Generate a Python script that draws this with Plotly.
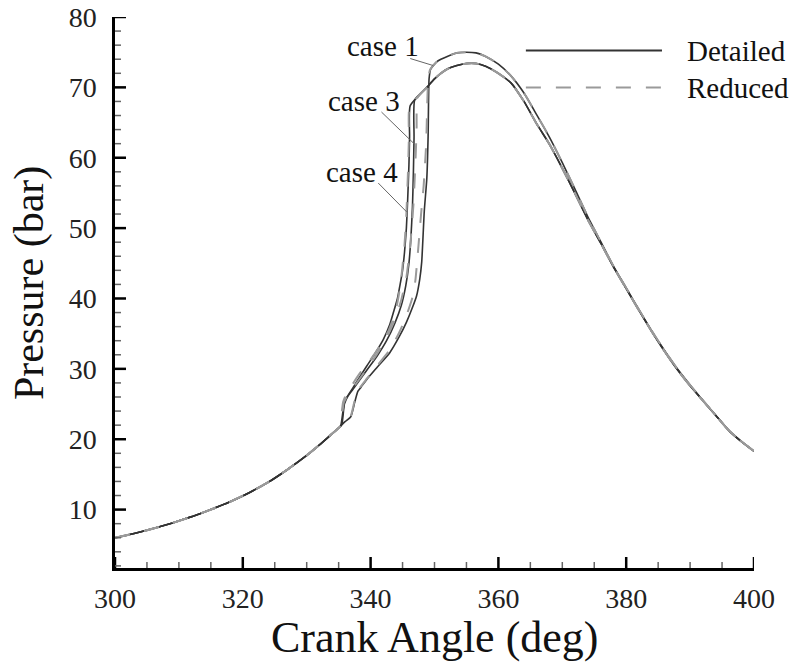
import plotly.graph_objects as go

# ---------------- data ----------------
# shared motored-compression segment (all cases)
comp_angle = [300, 303, 306, 309, 312, 315, 318, 321, 324, 327, 330, 332, 334, 335]
comp_p = [6.0, 6.6, 7.3, 8.1, 9.0, 10.0, 11.1, 12.4, 13.9, 15.7, 17.7, 19.2, 20.8, 21.6]

# expansion of cases 3 & 4 (lower peak)
exp_low_angle = [348.8, 350.0, 351.0, 352.0, 353.5, 355.0, 356.5, 358.0, 360.0, 362.0, 364.0,
                 366.0, 368.0, 370.0, 372.0, 374.0, 376.0, 378.0, 380.0, 382.0, 384.0, 386.0,
                 388.0, 390.0, 392.0, 394.0, 396.0, 398.0, 400.0]
exp_low_p = [70.0, 71.2, 72.0, 72.6, 73.1, 73.4, 73.4, 73.0, 72.0, 70.6, 68.0,
             64.8, 61.9, 58.5, 54.9, 51.2, 47.9, 44.5, 41.4, 38.3, 35.3, 32.5,
             29.9, 27.6, 25.5, 23.4, 21.3, 19.7, 18.3]

# expansion of case 1 (upper peak)
exp_up_angle = [350.3, 351.0, 352.0, 353.5, 355.0, 356.5, 358.0, 360.0, 362.0, 364.0, 366.0,
                368.0, 370.0, 372.0, 374.0, 376.0, 378.0, 380.0, 382.0, 384.0, 386.0, 388.0,
                390.0, 392.0, 394.0, 396.0, 398.0, 400.0]
exp_up_p = [73.6, 74.0, 74.4, 74.9, 75.0, 74.9, 74.4, 73.3, 71.6, 69.2, 66.1,
            62.9, 59.3, 55.5, 51.6, 48.1, 44.6, 41.5, 38.4, 35.4, 32.6, 30.0,
            27.7, 25.5, 23.4, 21.3, 19.7, 18.3]

# combustion segments, detailed mechanism
c1_det_angle = [336.0, 336.9, 337.5, 338.0, 338.5, 339.4, 341.0, 343.0, 344.5, 345.6, 346.5,
                347.2, 347.7, 348.0, 348.4, 348.8, 349.0, 349.15, 349.4]
c1_det_p = [22.5, 23.2, 25.2, 26.8, 27.4, 28.5, 30.2, 32.3, 34.6, 36.6, 38.6,
            40.4, 42.8, 45.2, 52.4, 57.1, 63.0, 71.2, 72.6]

c3_det_angle = [335.5, 335.9, 336.5, 337.5, 339.4, 341.0, 342.5, 343.8, 344.8, 345.5, 346.0,
                346.3, 346.55, 346.7, 346.8, 346.9]
c3_det_p = [22.1, 25.0, 26.2, 27.4, 29.8, 31.8, 34.0, 36.5, 39.0, 41.8, 45.0,
            48.5, 53.0, 58.0, 63.0, 68.2]

c4_det_angle = [335.3, 335.9, 336.3, 337.3, 338.4, 339.4, 340.7, 342.0, 343.0, 343.6, 344.2,
                344.6, 345.0, 345.3, 345.6, 345.8, 346.0, 346.1, 346.2]
c4_det_p = [21.8, 25.3, 26.0, 27.4, 29.0, 30.4, 32.2, 34.2, 36.3, 38.1, 40.0,
            41.9, 44.0, 46.5, 50.0, 54.0, 59.0, 63.0, 67.4]

# combustion segments, reduced mechanism
c1_red_angle = [336.0, 336.9, 337.5, 338.0, 339.4, 341.0, 343.0, 344.5, 345.5, 346.5, 347.0,
                347.5, 347.9, 348.3, 348.7, 349.0, 349.3]
c1_red_p = [22.5, 23.3, 25.5, 26.9, 28.6, 30.4, 32.7, 35.2, 37.3, 40.0, 42.5,
            47.6, 52.0, 56.0, 62.0, 71.0, 72.5]

c3_red_angle = [335.3, 335.8, 336.4, 337.5, 339.4, 341.0, 342.5, 343.8, 344.8, 345.6, 346.2,
                346.7, 347.0, 347.2, 347.35]
c3_red_p = [21.9, 25.2, 26.2, 27.6, 30.0, 32.1, 34.4, 37.0, 39.8, 43.0, 47.5,
            53.3, 59.0, 64.0, 68.6]

c4_red_angle = [335.2, 335.7, 336.2, 337.3, 338.5, 339.9, 341.5, 342.8, 343.6, 344.1, 344.6,
                344.9, 345.3, 345.6, 345.85, 346.0, 346.1]
c4_red_p = [21.8, 25.3, 26.4, 28.0, 29.6, 31.2, 33.3, 35.4, 37.3, 39.0, 41.5,
            43.8, 47.5, 52.0, 58.0, 63.0, 67.2]

x_range = [300, 400]
y_range = [1.7, 80]
x_major = [300, 320, 340, 360, 380, 400]
y_major = [10, 20, 30, 40, 50, 60, 70, 80]
x_minor = [v for v in range(305, 400, 5) if v not in x_major]
y_minor = [v for v in range(2, 80, 2) if v not in y_major]
case_labels = ["case 1", "case 3", "case 4"]
legend_labels = ["Detailed", "Reduced"]

FONT = "Liberation Serif"
DET_COLOR = "#333333"
RED_COLOR = "#9a9a9a"

fig = go.Figure()


def add_curve(angle, p, upper, detailed):
    exp_a = exp_up_angle if upper else exp_low_angle
    exp_p = exp_up_p if upper else exp_low_p
    xs = comp_angle + angle + exp_a
    ys = comp_p + p + exp_p
    if detailed:
        line = dict(color=DET_COLOR, width=1.6, shape="spline", smoothing=0.5)
    else:
        line = dict(color=RED_COLOR, width=2, dash="15px,15px", shape="spline", smoothing=0.5)
    fig.add_trace(go.Scatter(x=xs, y=ys, mode="lines", line=line,
                             showlegend=False, hoverinfo="skip"))


add_curve(c1_det_angle, c1_det_p, True, True)
add_curve(c3_det_angle, c3_det_p, False, True)
add_curve(c4_det_angle, c4_det_p, False, True)
add_curve(c1_red_angle, c1_red_p, True, False)
add_curve(c3_red_angle, c3_red_p, False, False)
add_curve(c4_red_angle, c4_red_p, False, False)

# case labels with leader lines
label_pos = [(341.9, 75.9), (338.9, 68.1), (338.7, 58.0)]
leader = [((346.2, 74.1), (349.8, 73.1)),
          ((341.7, 66.5), (346.8, 62.0)),
          ((341.2, 56.4), (345.65, 52.3))]
for txt, (lx, ly), ((x0, y0), (x1, y1)) in zip(case_labels, label_pos, leader):
    fig.add_annotation(x=lx, y=ly, text=txt, showarrow=False,
                       font=dict(family=FONT, size=29, color="#111"))
    fig.add_shape(type="line", x0=x0, y0=y0, x1=x1, y1=y1, xref="x", yref="y",
                  line=dict(color="#666", width=1))

# legend drawn manually (long line samples)
fig.add_shape(type="line", xref="paper", yref="paper", x0=0.643, x1=0.856, y0=0.939, y1=0.939,
              line=dict(color=DET_COLOR, width=2))
fig.add_shape(type="line", xref="paper", yref="paper", x0=0.643, x1=0.856, y0=0.872, y1=0.872,
              line=dict(color=RED_COLOR, width=2, dash="15px,15px"))
fig.add_annotation(xref="paper", yref="paper", x=0.892, y=0.939, xanchor="left", yanchor="middle",
                   text=legend_labels[0], showarrow=False, font=dict(family=FONT, size=29, color="#111"))
fig.add_annotation(xref="paper", yref="paper", x=0.892, y=0.872, xanchor="left", yanchor="middle",
                   text=legend_labels[1], showarrow=False, font=dict(family=FONT, size=29, color="#111"))

# tick marks pointing into the plot (pixel-sized shapes anchored to the axes)
for v in x_major:
    fig.add_shape(type="line", xref="x", x0=v, x1=v, yref="paper", ysizemode="pixel", yanchor=0,
                  y0=0, y1=11, line=dict(color="black", width=2.5))
for v in x_minor:
    fig.add_shape(type="line", xref="x", x0=v, x1=v, yref="paper", ysizemode="pixel", yanchor=0,
                  y0=0, y1=6, line=dict(color="#666", width=1.5))
for v in y_major:
    fig.add_shape(type="line", yref="y", y0=v, y1=v, xref="paper", xsizemode="pixel", xanchor=0,
                  x0=0, x1=11, line=dict(color="black", width=2.5))
for v in y_minor:
    fig.add_shape(type="line", yref="y", y0=v, y1=v, xref="paper", xsizemode="pixel", xanchor=0,
                  x0=0, x1=6, line=dict(color="#666", width=1.5))

# axis titles
fig.add_annotation(xref="paper", yref="paper", x=0.5, y=-0.126, xanchor="center", yanchor="middle",
                   text="Crank Angle (deg)", showarrow=False, font=dict(family=FONT, size=44, color="#111"))
fig.add_annotation(xref="paper", yref="paper", x=-0.1346, y=0.517, xanchor="center", yanchor="middle",
                   textangle=-90, text="Pressure (bar)", showarrow=False,
                   font=dict(family=FONT, size=42, color="#111"))

fig.update_layout(
    width=795, height=668, margin=dict(l=115, r=41, t=17, b=100),
    font=dict(family=FONT, size=28, color="#222"),
    plot_bgcolor="white", paper_bgcolor="white", showlegend=False,
    xaxis=dict(
        range=x_range, tickmode="array", tickvals=x_major, ticks="",
        tickfont=dict(family=FONT, size=28, color="#222"), automargin=False,
        ticklabelstandoff=4,
        showline=True, linewidth=2.5, linecolor="black", showgrid=False, zeroline=False,
    ),
    yaxis=dict(
        range=y_range, tickmode="array", tickvals=y_major, ticks="",
        tickfont=dict(family=FONT, size=28, color="#222"), automargin=False,
        ticklabelstandoff=10,
        showline=True, linewidth=2.5, linecolor="black", showgrid=False, zeroline=False,
    ),
)

fig.write_html("out.html")
